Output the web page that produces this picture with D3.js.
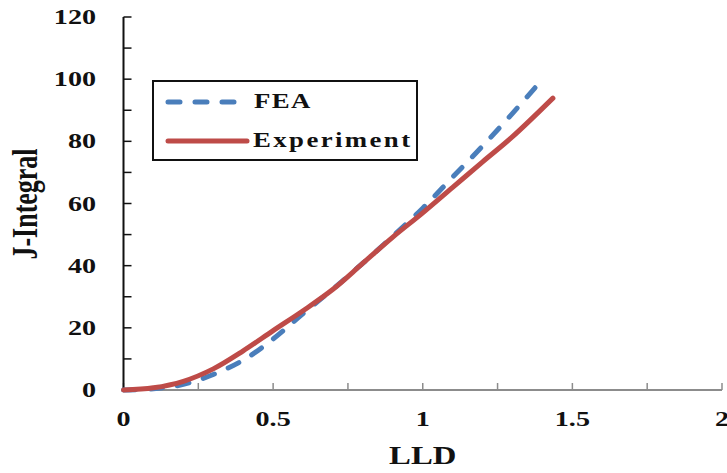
<!DOCTYPE html>
<html>
<head>
<meta charset="utf-8">
<script src="https://cdn.jsdelivr.net/npm/d3@7"></script>
<style>
  html, body { margin: 0; padding: 0; background: #fff; }
  svg { display: block; }
  text { font-family: "Liberation Serif", "Times New Roman", serif; font-weight: bold; fill: #111; }
</style>
</head>
<body>
<svg id="chart" width="727" height="473"></svg>
<script>
// Load-line displacement (LLD) vs J-Integral
const fea_lld = [0, 0.1, 0.2, 0.3, 0.4, 0.5, 0.6, 0.7, 0.8, 0.9, 1.0, 1.1, 1.2, 1.3, 1.4];
const fea_j   = [0, 0.4, 1.8, 5.0, 9.6, 16.4, 24.6, 32.5, 40.8, 49.5, 58.5, 68.5, 78.5, 89.0, 100.0];

const exp_lld = [0, 0.1, 0.2, 0.3, 0.4, 0.5, 0.6, 0.7, 0.8, 0.9, 1.0, 1.1, 1.2, 1.3, 1.435];
const exp_j   = [0, 0.7, 2.8, 6.8, 12.6, 19.1, 25.5, 32.4, 40.8, 49.2, 57.0, 65.2, 73.4, 81.5, 93.9];

const seriesNames = ["FEA", "Experiment"];
const xTickValues = [0, 0.5, 1, 1.5, 2];
const yTickValues = [0, 20, 40, 60, 80, 100, 120];

const svg = d3.select("#chart");
const sx = 1.34; // horizontal text stretch

const x = d3.scaleLinear().domain([0, 2]).range([123.5, 722]);
const y = d3.scaleLinear().domain([0, 120]).range([390, 17]);

// x axis (gray)
const gx = svg.append("g");
gx.append("line").attr("x1", x(0)).attr("x2", x(2)).attr("y1", y(0)).attr("y2", y(0))
  .attr("stroke", "#8c8c8c").attr("stroke-width", 2);
gx.selectAll("line.tk").data(d3.range(0, 2.0001, 0.25)).join("line").attr("class", "tk")
  .attr("x1", d => x(d)).attr("x2", d => x(d)).attr("y1", y(0)).attr("y2", y(0) - 7)
  .attr("stroke", "#8c8c8c").attr("stroke-width", 1.5);
gx.selectAll("text").data(xTickValues).join("text")
  .attr("transform", d => `translate(${x(d)},${426}) scale(${sx},1)`)
  .attr("text-anchor", "middle").attr("font-size", 21)
  .text(d => d3.format("")(d));

// y axis (black)
const gy = svg.append("g");
gy.append("line").attr("x1", x(0)).attr("x2", x(0)).attr("y1", y(0)).attr("y2", y(120))
  .attr("stroke", "#111").attr("stroke-width", 2);
gy.selectAll("line.tk").data(d3.range(10, 120.001, 10)).join("line").attr("class", "tk")
  .attr("x1", x(0)).attr("x2", x(0) + 8).attr("y1", d => y(d)).attr("y2", d => y(d))
  .attr("stroke", "#111").attr("stroke-width", 1.5);
gy.selectAll("text").data(yTickValues).join("text")
  .attr("transform", d => `translate(96,${y(d) + 7}) scale(${sx},1)`)
  .attr("text-anchor", "end").attr("font-size", 21)
  .text(d => d);

// axis titles
svg.append("text")
  .attr("transform", `translate(${x(1)},464) scale(${sx - 0.08},1)`)
  .attr("text-anchor", "middle").attr("font-size", 26).text("LLD");
svg.append("text")
  .attr("transform", `translate(37,204) scale(${sx},1) rotate(-90)`)
  .attr("text-anchor", "middle").attr("font-size", 26).text("J-Integral");

// curves
const line = d3.line().x(d => x(d[0])).y(d => y(d[1])).curve(d3.curveCatmullRom.alpha(0.5));
const feaPts = fea_lld.map((v, i) => [v, fea_j[i]]);
const expPts = exp_lld.map((v, i) => [v, exp_j[i]]);

svg.append("path").datum(feaPts).attr("d", line)
  .attr("fill", "none").attr("stroke", "#4a7ebb").attr("stroke-width", 5)
  .attr("stroke-dasharray", "12,15").attr("stroke-linecap", "round");
svg.append("path").datum(expPts).attr("d", line)
  .attr("fill", "none").attr("stroke", "#be4b48").attr("stroke-width", 5)
  .attr("stroke-linecap", "round");

// legend
const lg = svg.append("g");
lg.append("rect").attr("x", 153).attr("y", 81).attr("width", 264).attr("height", 79)
  .attr("fill", "#fff").attr("stroke", "#111").attr("stroke-width", 2);
lg.append("line").attr("x1", 168).attr("x2", 238).attr("y1", 102).attr("y2", 102)
  .attr("stroke", "#4a7ebb").attr("stroke-width", 5)
  .attr("stroke-dasharray", "12,15").attr("stroke-linecap", "round");
lg.append("line").attr("x1", 168).attr("x2", 247).attr("y1", 141).attr("y2", 141)
  .attr("stroke", "#be4b48").attr("stroke-width", 5).attr("stroke-linecap", "round");
lg.append("text").attr("transform", `translate(254,108) scale(${sx},1)`)
  .attr("font-size", 20).attr("letter-spacing", 1).text(seriesNames[0]);
lg.append("text").attr("transform", `translate(253,147) scale(${sx},1)`)
  .attr("font-size", 20).attr("letter-spacing", 1.8).text(seriesNames[1]);
</script>
</body>
</html>
